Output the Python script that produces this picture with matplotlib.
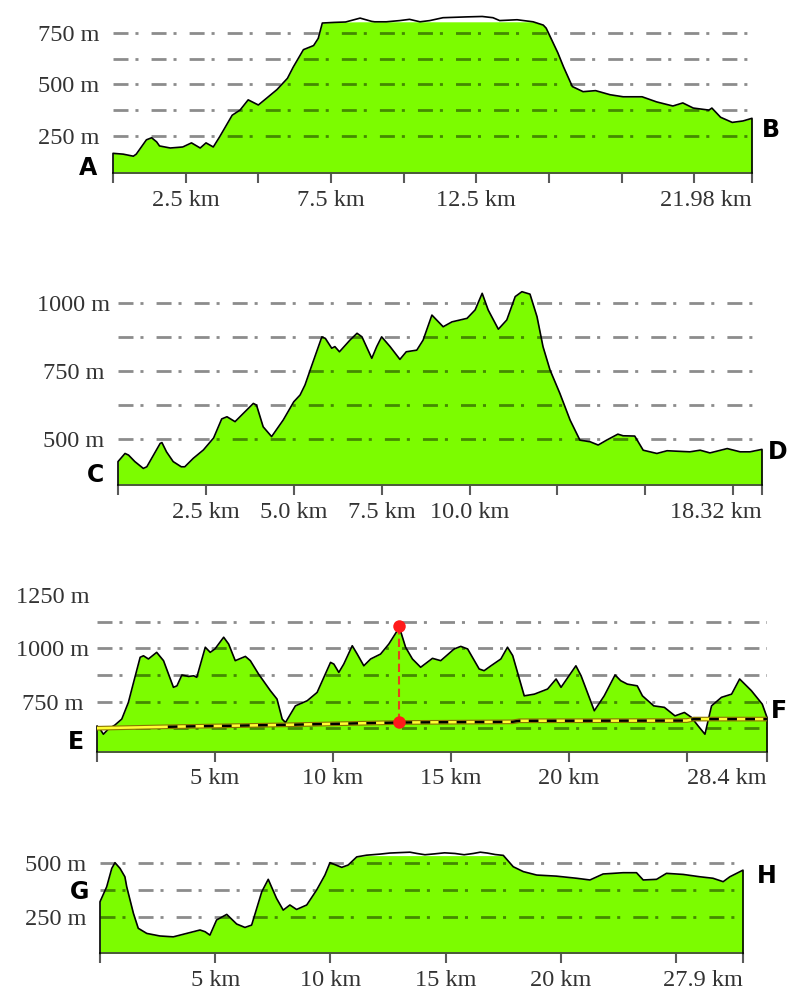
import numpy as np
import matplotlib.pyplot as plt

plt.rcParams['lines.scale_dashes'] = False
plt.rcParams['font.family'] = ['Liberation Serif', 'DejaVu Serif']

# perfil A - B
km_ab = [0, 0.35, 0.7, 0.8, 1.15, 1.33, 1.5, 1.6, 1.97, 2.4, 2.7, 3.0, 3.2, 3.45, 3.67, 4.1,
         4.37, 4.65, 5.0, 5.3, 5.64, 6.0, 6.2, 6.55, 6.9, 7.06, 7.2, 7.6, 8.0, 8.5, 8.9, 9.0,
         9.4, 9.87, 10.2, 10.56, 10.9, 11.35, 12.17, 12.7, 13.07, 13.3, 13.9, 14.45, 14.8,
         14.9, 15.3, 15.5, 15.8, 16.17, 16.6, 17.1, 17.55, 18.2, 18.7, 19.26, 19.6, 19.96,
         20.5, 20.6, 20.9, 21.3, 21.67, 21.98]
alt_ab = [164, 160, 150, 160, 230, 240, 220, 200, 190, 195, 215, 190, 215, 195, 245, 350,
          375, 425, 400, 435, 475, 530, 585, 670, 690, 725, 800, 803, 805, 824, 808, 806,
          806, 812, 818, 806, 812, 826, 830, 832, 826, 812, 816, 806, 790,
          775, 655, 585, 490, 465, 470, 450, 440, 440, 415, 395, 410, 385,
          375, 385, 340, 315, 322, 335]
ticks_ab = [0, 2.5, 5, 7.5, 10, 12.5, 15, 17.5, 20, 21.98]
etiq_ab = ['', '2.5 km', '', '7.5 km', '', '12.5 km', '', '', '', '21.98 km']
rejilla_ab = [250, 375, 500, 625, 750]
alturas_ab = [250, 500, 750]

# perfil C - D
km_cd = [0, 0.2, 0.3, 0.48, 0.72, 0.82, 1.2, 1.25, 1.38, 1.57, 1.8, 1.9, 2.14, 2.43, 2.72,
         2.95, 3.1, 3.33, 3.57, 3.85, 3.94, 4.13, 4.37, 4.7, 5.0, 5.18, 5.32, 5.5, 5.8, 5.9,
         6.08, 6.17, 6.3, 6.6, 6.8, 6.94, 7.22, 7.36, 7.5, 7.74, 8.02, 8.2, 8.5, 8.68, 8.93,
         9.25, 9.5, 9.93, 10.16, 10.36, 10.53, 10.82, 11.06, 11.3, 11.49, 11.72, 11.92,
         12.09, 12.29, 12.57, 12.86, 13.14, 13.43, 13.66, 13.9, 14.22, 14.37, 14.7, 14.94,
         15.33, 15.62, 16.27, 16.56, 16.84, 17.33, 17.7, 17.98, 18.32]
alt_cd = [418, 448, 442, 418, 393, 399, 485, 488, 454, 418, 399, 399, 430, 461, 505,
          575, 583, 565, 596, 632, 626, 546, 510, 571, 638, 663, 700, 767, 877, 871,
          835, 841, 822, 865, 890, 877, 798, 841, 877, 841, 794, 822, 828, 865, 957,
          914, 932, 945, 976, 1037, 976, 905, 939, 1025, 1043, 1034, 951,
          841, 755, 669, 571, 497, 491, 479, 497, 519, 513, 512, 460,
          448, 458, 454, 460, 450, 466, 454, 454, 463]
ticks_cd = [0, 2.5, 5, 7.5, 10, 12.5, 15, 17.5, 18.32]
etiq_cd = ['', '2.5 km', '5.0 km', '7.5 km', '10.0 km', '', '', '', '18.32 km']
rejilla_cd = [500, 625, 750, 875, 1000]
alturas_cd = [500, 750, 1000]

# perfil E - F
km_ef = [0, 0.13, 0.27, 0.48, 0.76, 1.05, 1.33, 1.55, 1.83, 1.97, 2.18, 2.53, 2.82, 3.24,
         3.39, 3.6, 3.88, 4.1, 4.23, 4.59, 4.8, 5.0, 5.37, 5.58, 5.86, 6.29, 6.5, 6.85, 7.35,
         7.63, 7.85, 7.99, 8.2, 8.41, 8.91, 9.33, 9.9, 10.04, 10.25, 10.46, 10.82, 11.03,
         11.31, 11.6, 12.02, 12.37, 12.73, 12.8, 13.08, 13.37, 13.72, 14.22, 14.57, 15.14,
         15.42, 15.71, 16.2, 16.41, 16.7, 17.12, 17.4, 17.62, 18.11, 18.54, 19.1, 19.46,
         19.67, 20.3, 20.52, 21.08, 21.5, 21.96, 22.2, 22.48, 22.9, 23.12, 23.6, 24.05,
         24.5, 24.9, 25.2, 25.48, 25.77, 26.05, 26.47, 26.9, 27.24, 27.74, 28.2, 28.4]
alt_ef = [636, 621, 597, 621, 640, 668, 746, 840, 958, 965, 950, 981, 942, 817,
          824, 875, 868, 871, 864, 1005, 981, 997, 1052, 1020, 942, 962, 942, 879, 801,
          762, 668, 652, 691, 730, 754, 793, 934, 926, 887, 926, 1012, 973,
          918, 950, 973, 1020, 1083, 1105, 1005, 950, 911, 953, 942, 997,
          1009, 997, 903, 895, 918, 950, 1005, 966, 777, 785, 809, 856,
          817, 918, 871, 707, 777, 875, 848, 832, 824, 777, 730, 723,
          683, 699, 676, 636, 597, 730, 770, 785, 856, 801, 738, 676]
ticks_ef = [0, 5, 10, 15, 20, 25, 28.4]
etiq_ef = ['', '5 km', '10 km', '15 km', '20 km', '', '28.4 km']
rejilla_ef = [625, 750, 875, 1000, 1125]
alturas_ef = [750, 1000, 1250]
# linea de desnivel acumulado (amarilla)
km_desnivel = [0, 3, 8, 12.8, 17.6, 17.9, 25.0, 25.3, 28.4]
alt_desnivel = [625, 632, 641, 652, 655, 660, 661, 668, 668]

# perfil G - H
km_gh = [0, 0.29, 0.51, 0.65, 0.87, 1.08, 1.16, 1.45, 1.66, 2.03, 2.6, 3.18, 3.76, 4.34,
         4.56, 4.77, 5.06, 5.5, 5.93, 6.29, 6.58, 7.02, 7.3, 7.66, 7.95, 8.24, 8.53, 8.97,
         9.4, 9.76, 9.98, 10.49, 10.77, 11.14, 11.57, 12.15, 12.58, 13.0, 13.45, 13.75,
         14.1, 14.5, 14.95, 15.4, 15.8, 16.2, 16.5, 16.8, 17.15, 17.5, 17.93, 18.37, 18.95,
         19.8, 20.68, 21.26, 21.83, 22.7, 23.28, 23.57, 24.15, 24.58, 25.3, 26.03, 26.6,
         27.04, 27.33, 27.9]
alt_gh = [320, 390, 476, 503, 476, 437, 390, 266, 196, 172, 160, 156, 172, 188,
          180, 164, 235, 261, 216, 200, 211, 367, 425, 336, 281, 305, 284, 305,
          375, 445, 503, 481, 492, 530, 538, 543, 548, 550, 552, 546,
          540, 544, 549, 546, 540, 546, 552, 548, 541, 537, 484, 461, 445,
          440, 430, 422, 450, 456, 456, 422, 425, 453, 448, 437, 430,
          414, 437, 468]
ticks_gh = [0, 5, 10, 15, 20, 25, 27.9]
etiq_gh = ['', '5 km', '10 km', '15 km', '20 km', '', '27.9 km']
rejilla_gh = [250, 375, 500]
alturas_gh = [250, 500]

W, H = 790, 992
fig = plt.figure(figsize=(W / 100, H / 100), dpi=100)
VERDE = '#7cfc00'
TEXTO = '#333333'


def perfil(caja, ylim, km, alt, ticks, etiq, rejilla, alturas, tope=None):
    # caja = (izq, der, arriba, base) en pixeles de la figura
    x0, x1, ytop, ybase = caja
    ax = fig.add_axes([x0 / W, 1 - ybase / H, (x1 - x0) / W, (ybase - ytop) / H])
    km = np.asarray(km, float)
    alt = np.asarray(alt, float)
    relleno = alt if tope is None else np.minimum(alt, tope)
    ax.fill_between(km, ylim[0], relleno, color=VERDE, lw=0, zorder=1)
    for g in rejilla:
        ax.axhline(g, color='black', alpha=0.45, lw=2.0,
                   ls=(0, (10.8, 5.0, 2.2, 9.4)), zorder=2)
    xs = np.r_[km[0], km, km[-1]]
    ys = np.r_[ylim[0], alt, ylim[0]]
    ax.plot(xs, ys, color='black', lw=1.2, zorder=4, clip_on=False)
    ax.set_xlim(km[0], km[-1])
    ax.set_ylim(*ylim)
    for s in ['top', 'right', 'left']:
        ax.spines[s].set_visible(False)
    ax.spines['bottom'].set_color('#4a5a3a')
    ax.spines['bottom'].set_linewidth(1.4)
    ax.set_facecolor('none')
    ax.set_xticks(ticks, etiq)
    ax.tick_params(axis='x', length=7, width=1.5, color='#5a5a5a', pad=5,
                   labelsize=17.5, labelcolor=TEXTO)
    ax.get_xticklabels()[-1].set_ha('right')
    ax.set_yticks(alturas, [f'{a} m' for a in alturas])
    ax.tick_params(axis='y', length=0, pad=32, labelsize=17.5, labelcolor=TEXTO)
    for t in ax.get_yticklabels():
        t.set_ha('center')
    return ax


perfil((113, 752, 5, 173), (68, 888), km_ab, alt_ab, ticks_ab, etiq_ab,
       rejilla_ab, alturas_ab, tope=806)
perfil((118, 762, 280, 485), (332, 1086), km_cd, alt_cd, ticks_cd, etiq_cd,
       rejilla_cd, alturas_cd)
ax_ef = perfil((97, 767, 585, 751.7), (515, 1297), km_ef, alt_ef, ticks_ef, etiq_ef,
               rejilla_ef, alturas_ef)
perfil((100, 743, 840, 953.3), (79, 609), km_gh, alt_gh, ticks_gh, etiq_gh,
       rejilla_gh, alturas_gh, tope=536)

# desnivel y punto mas alto del tramo E - F
ax_ef.plot(km_desnivel, alt_desnivel, color='#8a7400', lw=3.4, zorder=5)
ax_ef.plot(km_desnivel, alt_desnivel, color='#ffff33', lw=1.8, zorder=6)
ax_ef.plot(km_desnivel[1:], alt_desnivel[1:], color='black', lw=1.8,
           ls=(0, (7, 6)), zorder=7)
i_max = int(np.argmax(alt_ef))
km_max = km_ef[i_max]
alt_max = alt_ef[i_max]
alt_pie = np.interp(km_max, km_desnivel, alt_desnivel)
ax_ef.plot([km_max, km_max], [alt_pie, alt_max], color='#e8401c', lw=1.5,
           ls=(0, (6, 3)), zorder=8)
ax_ef.plot([km_max, km_max], [alt_max, alt_pie], 'o', color='#ff1a1a', ms=9,
           mec='none', zorder=9, clip_on=False)

# letras de los puntos de paso
letras = [('A', 88, 168, 'center'), ('B', 771, 130, 'center'),
          ('C', 95, 475, 'center'), ('D', 778, 452, 'center'),
          ('E', 76, 742, 'center'), ('F', 771, 711, 'left'),
          ('G', 80, 892, 'center'), ('H', 767, 876, 'center')]
for letra, x, y, ha in letras:
    fig.text(x / W, 1 - y / H, letra, ha=ha, va='center', fontsize=17,
             fontweight='bold', family='DejaVu Sans', color='black')

fig.savefig('out.png', dpi=100, facecolor='white')
